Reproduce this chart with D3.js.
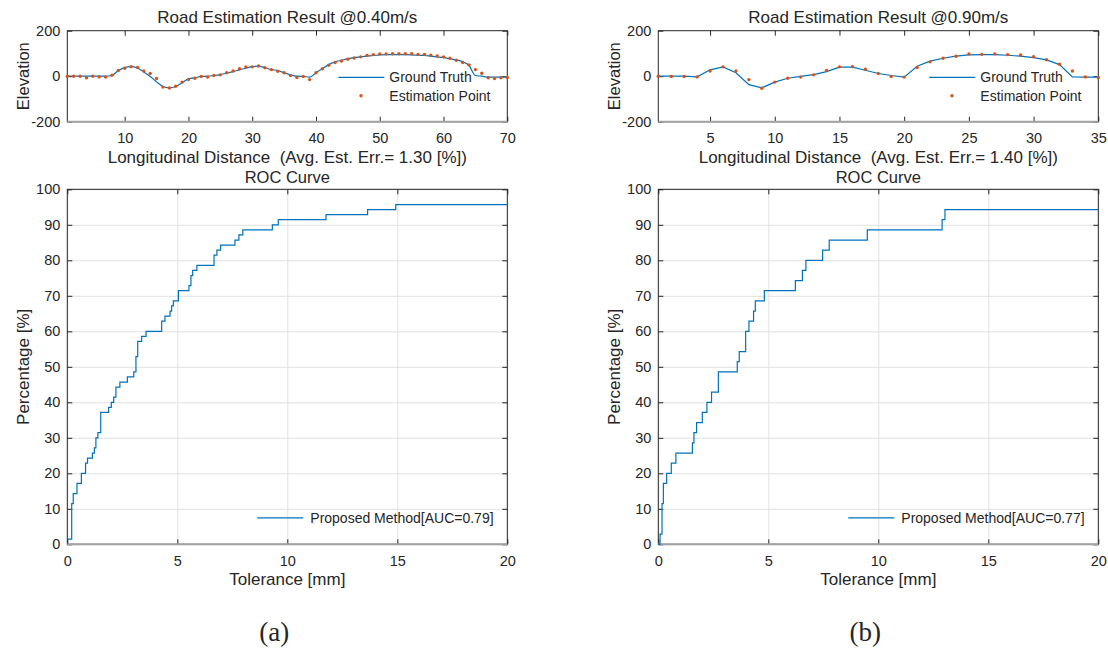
<!DOCTYPE html>
<html>
<head>
<meta charset="utf-8">
<script src="https://cdnjs.cloudflare.com/ajax/libs/d3/7.8.5/d3.min.js"></script>
<style>
  body { margin: 0; background: #fff; }
  svg text { font-family: "Liberation Sans", Arial, Helvetica, sans-serif; fill: #262626; }
  .caption { font-family: "Liberation Serif", "Times New Roman", serif; }
</style>
</head>
<body>
<svg id="fig" width="1108" height="650"></svg>
<script>
// ---- data ----
const distA = [1, 2, 3, 4, 5, 6, 7, 8, 9, 10, 11, 12, 13, 14, 15, 16, 17, 18, 19, 20,
  21, 22, 23, 24, 25, 26, 27, 28, 29, 30, 31, 32, 33, 34, 35, 36, 37, 38, 39, 40,
  41, 42, 43, 44, 45, 46, 47, 48, 49, 50, 51, 52, 53, 54, 55, 56, 57, 58, 59, 60,
  61, 62, 63, 64, 65, 66, 67, 68, 69, 70];
const truthA = [0, 0, 0, 0, 0, 0, 0, 3, 25, 38, 42, 36, 19, -1, -25, -45, -51, -45, -29, -12,
  -7, -1, 0, 3, 7, 13, 20, 28, 35, 42, 44, 37, 29, 25, 15, 6, 0, -1, -4, 15,
  33, 51, 63, 70, 77, 82, 85, 88, 91, 94, 95, 95, 95, 95, 94, 92, 91, 88, 85, 82,
  77, 72, 64, 47, 3, 0, -4, -4, -4, -4];
const estA = [0, 0, 0, -7, 0, -3, -4, 4, 25, 35, 42, 39, 23, 12, -10, -48, -52, -44, -26, -15,
  -9, -1, -4, 3, 6, 15, 23, 33, 41, 41, 45, 37, 29, 22, 15, 3, -6, -1, -15, 15,
  33, 48, 60, 67, 75, 80, 85, 91, 95, 98, 98, 99, 99, 99, 99, 96, 96, 92, 89, 85,
  79, 70, 60, 50, 29, 13, -7, -10, -7, -6];

const distB = [1, 2, 3, 4, 5, 6, 7, 8, 9, 10, 11, 12, 13, 14, 15, 16, 17, 18, 19, 20,
  21, 22, 23, 24, 25, 26, 27, 28, 29, 30, 31, 32, 33, 34, 35];
const truthB = [0, 0, 0, -3, 28, 41, 15, -37, -51, -26, -9, -1, 7, 20, 40, 40, 26, 12, 3, -4,
  44, 66, 79, 88, 94, 95, 95, 92, 88, 82, 72, 51, -3, -4, -4];
const estB = [0, -1, -1, -3, 23, 41, 23, -15, -53, -26, -9, -4, 6, 25, 41, 42, 31, 12, -1, -4,
  38, 63, 79, 88, 98, 96, 98, 95, 93, 86, 72, 53, 23, -3, -6];

// ROC: tolerance [mm] where each step starts, and the percentage from there on
const rocTolA = [0, 0.20, 0.27, 0.44, 0.64, 0.83, 0.92, 1.14, 1.23, 1.30, 1.39, 1.52, 1.88, 2.00,
  2.11, 2.21, 2.39, 2.73, 3.02, 3.12, 3.20, 3.38, 3.58, 4.29, 4.44, 4.67, 4.74, 4.82, 5.05,
  5.53, 5.62, 5.70, 5.89, 6.67, 6.80, 6.97, 7.62, 7.80, 7.98, 9.32, 9.59, 11.76, 13.65,
  14.93, 20];
const rocPctA = [1.43, 11.43, 14.29, 17.14, 20.0, 22.86, 24.29, 25.71, 27.14, 30.0, 31.43, 37.14,
  38.57, 40.0, 41.43, 44.29, 45.71, 47.14, 48.57, 52.86, 57.14, 58.57, 60.0, 62.86, 64.29,
  65.71, 67.14, 68.57, 71.43, 72.86, 75.71, 77.14, 78.57, 81.43, 82.86, 84.29, 85.71, 87.14,
  88.57, 90.0, 91.43, 92.86, 94.29, 95.71, 95.71];

const rocTolB = [0, 0.08, 0.17, 0.23, 0.38, 0.59, 0.80, 1.55, 1.62, 1.74, 2.00, 2.21, 2.42, 2.73,
  3.59, 3.68, 3.97, 4.12, 4.33, 4.41, 4.82, 6.23, 6.55, 6.71, 7.47, 7.77, 9.50, 12.90,
  13.03, 20];
const rocPctB = [0, 2.86, 11.43, 17.14, 20.0, 22.86, 25.71, 28.57, 31.43, 34.29, 37.14, 40.0, 42.86,
  48.57, 51.43, 54.29, 60.0, 62.86, 65.71, 68.57, 71.43, 74.29, 77.14, 80.0, 82.86, 85.71,
  88.57, 91.43, 94.29, 94.29];

const aucLabels = ['Proposed Method[AUC=0.79]', 'Proposed Method[AUC=0.77]'];
const speeds = ['0.40', '0.90'];
const errLabels = ['1.30', '1.40'];
const profileTicks = [[10, 20, 30, 40, 50, 60, 70], [5, 10, 15, 20, 25, 30, 35]];
const elevTicks = [-200, 0, 200];
const rocXTicks = [0, 5, 10, 15, 20];
const rocYTicks = [0, 10, 20, 30, 40, 50, 60, 70, 80, 90, 100];
const panelLabels = ['(a)', '(b)'];

const BLUE = '#0072BD';
const ORANGE = '#D95319';
const INK = '#262626';
const GRID = '#e2e2e2';

const svg = d3.select('#fig');
svg.append('rect').attr('width', 1108).attr('height', 650).attr('fill', '#fff');

// matlab prints a plain hyphen for negatives
const plain = d => String(d);

function frame (g, x, y, w, h, xTicks, yTicks, withGrid) {
  if (withGrid) {
    g.append('g').attr('class', 'grid').attr('transform', `translate(0,${h})`)
      .call(d3.axisBottom(x).tickValues(xTicks).tickSize(-h).tickFormat(''));
    g.append('g').attr('class', 'grid')
      .call(d3.axisLeft(y).tickValues(yTicks).tickSize(-w).tickFormat(''));
    g.selectAll('.grid line').attr('stroke', GRID);
  }
  const bottom = g.append('g').attr('class', 'ax').attr('transform', `translate(0,${h})`)
    .call(d3.axisBottom(x).tickValues(xTicks).tickSize(-5).tickPadding(11).tickFormat(plain));
  const left = g.append('g').attr('class', 'ax')
    .call(d3.axisLeft(y).tickValues(yTicks).tickSize(-5).tickPadding(7).tickFormat(plain));
  g.append('g').attr('class', 'ax').call(d3.axisTop(x).tickValues(xTicks).tickSize(-5).tickFormat(''));
  g.append('g').attr('class', 'ax').attr('transform', `translate(${w},0)`)
    .call(d3.axisRight(y).tickValues(yTicks).tickSize(-5).tickFormat(''));
  g.selectAll('.domain').remove();
  g.selectAll('.ax line').attr('stroke', INK);
  for (const ax of [bottom, left]) {
    ax.selectAll('text').attr('font-size', 14.5).attr('fill', INK)
      .attr('font-family', '"Liberation Sans", Arial, sans-serif');
  }
  g.append('rect').attr('width', w).attr('height', h)
    .attr('fill', 'none').attr('stroke', INK).attr('stroke-width', 1);
  g.append('line').attr('x1', 0).attr('x2', w).attr('y1', h).attr('y2', h)
    .attr('stroke', '#a3a3a3').attr('stroke-width', 2);
}

function drawProfile (i, left, dist, truth, est) {
  const w = 440, h = 91, top = 30.7;
  const g = svg.append('g').attr('transform', `translate(${left},${top})`);
  const x = d3.scaleLinear().domain([1, dist[dist.length - 1]]).range([0, w]);
  const y = d3.scaleLinear().domain([-200, 200]).range([h, 0]);
  frame(g, x, y, w, h, profileTicks[i], elevTicks, false);

  const line = d3.line()
    .x((d, k) => x(dist[k]))
    .y(d => y(d))
    .curve(i === 0 ? d3.curveMonotoneX : d3.curveLinear);
  g.append('path').datum(truth).attr('d', line)
    .attr('fill', 'none').attr('stroke', BLUE).attr('stroke-width', 1.2);
  g.selectAll('.est').data(est).join('circle')
    .attr('cx', (d, k) => x(dist[k])).attr('cy', d => y(d))
    .attr('r', 1.7).attr('fill', ORANGE);

  // legend
  const lg = g.append('g').attr('transform', `translate(${271},${46.6})`);
  lg.append('line').attr('x1', 0).attr('x2', 46).attr('y1', 0).attr('y2', 0)
    .attr('stroke', BLUE).attr('stroke-width', 1.2);
  lg.append('text').attr('x', 51).attr('y', 5).attr('font-size', 14).text('Ground Truth');
  lg.append('circle').attr('cx', 22.7).attr('cy', 18.4).attr('r', 1.7).attr('fill', ORANGE);
  lg.append('text').attr('x', 51).attr('y', 23.5).attr('font-size', 14).text('Estimation Point');

  g.append('text').attr('x', w / 2).attr('y', -8).attr('text-anchor', 'middle')
    .attr('font-size', 17).text(`Road Estimation Result @${speeds[i]}m/s`);
  g.append('text').attr('x', w / 2).attr('y', h + 41).attr('text-anchor', 'middle')
    .attr('font-size', 17).attr('xml:space', 'preserve')
    .text(`Longitudinal Distance  (Avg. Est. Err.= ${errLabels[i]} [%])`);
  g.append('text').attr('transform', `translate(${-38},${h / 2}) rotate(-90)`)
    .attr('text-anchor', 'middle').attr('font-size', 16.5).text('Elevation');
}

function drawRoc (i, left, tol, pct) {
  const w = 440, h = 355, top = 189.3;
  const g = svg.append('g').attr('transform', `translate(${left},${top})`);
  const x = d3.scaleLinear().domain([0, 20]).range([0, w]);
  const y = d3.scaleLinear().domain([0, 100]).range([h, 0]);
  frame(g, x, y, w, h, rocXTicks, rocYTicks, true);

  const line = d3.line()
    .x((d, k) => x(tol[k]))
    .y(d => y(d))
    .curve(d3.curveStepAfter);
  g.append('path').datum(pct).attr('d', line)
    .attr('fill', 'none').attr('stroke', BLUE).attr('stroke-width', 1.2);

  const lg = g.append('g').attr('transform', `translate(${190},${328.5})`);
  lg.append('line').attr('x1', 0).attr('x2', 46).attr('y1', 0).attr('y2', 0)
    .attr('stroke', BLUE).attr('stroke-width', 1.2);
  lg.append('text').attr('x', 53).attr('y', 5).attr('font-size', 14).text(aucLabels[i]);

  g.append('text').attr('x', w / 2).attr('y', -6).attr('text-anchor', 'middle')
    .attr('font-size', 16.5).text('ROC Curve');
  g.append('text').attr('x', w / 2).attr('y', h + 41).attr('text-anchor', 'middle')
    .attr('font-size', 17).text('Tolerance [mm]');
  g.append('text').attr('transform', `translate(${-38},${h / 2}) rotate(-90)`)
    .attr('text-anchor', 'middle').attr('font-size', 17).text('Percentage [%]');

  svg.append('text').attr('class', 'caption')
    .attr('x', left + 207).attr('y', 641).attr('text-anchor', 'middle')
    .attr('font-size', 27).text(panelLabels[i]);
}

drawProfile(0, 67.3, distA, truthA, estA);
drawProfile(1, 658.3, distB, truthB, estB);
drawRoc(0, 67.3, rocTolA, rocPctA);
drawRoc(1, 658.3, rocTolB, rocPctB);
</script>
</body>
</html>
